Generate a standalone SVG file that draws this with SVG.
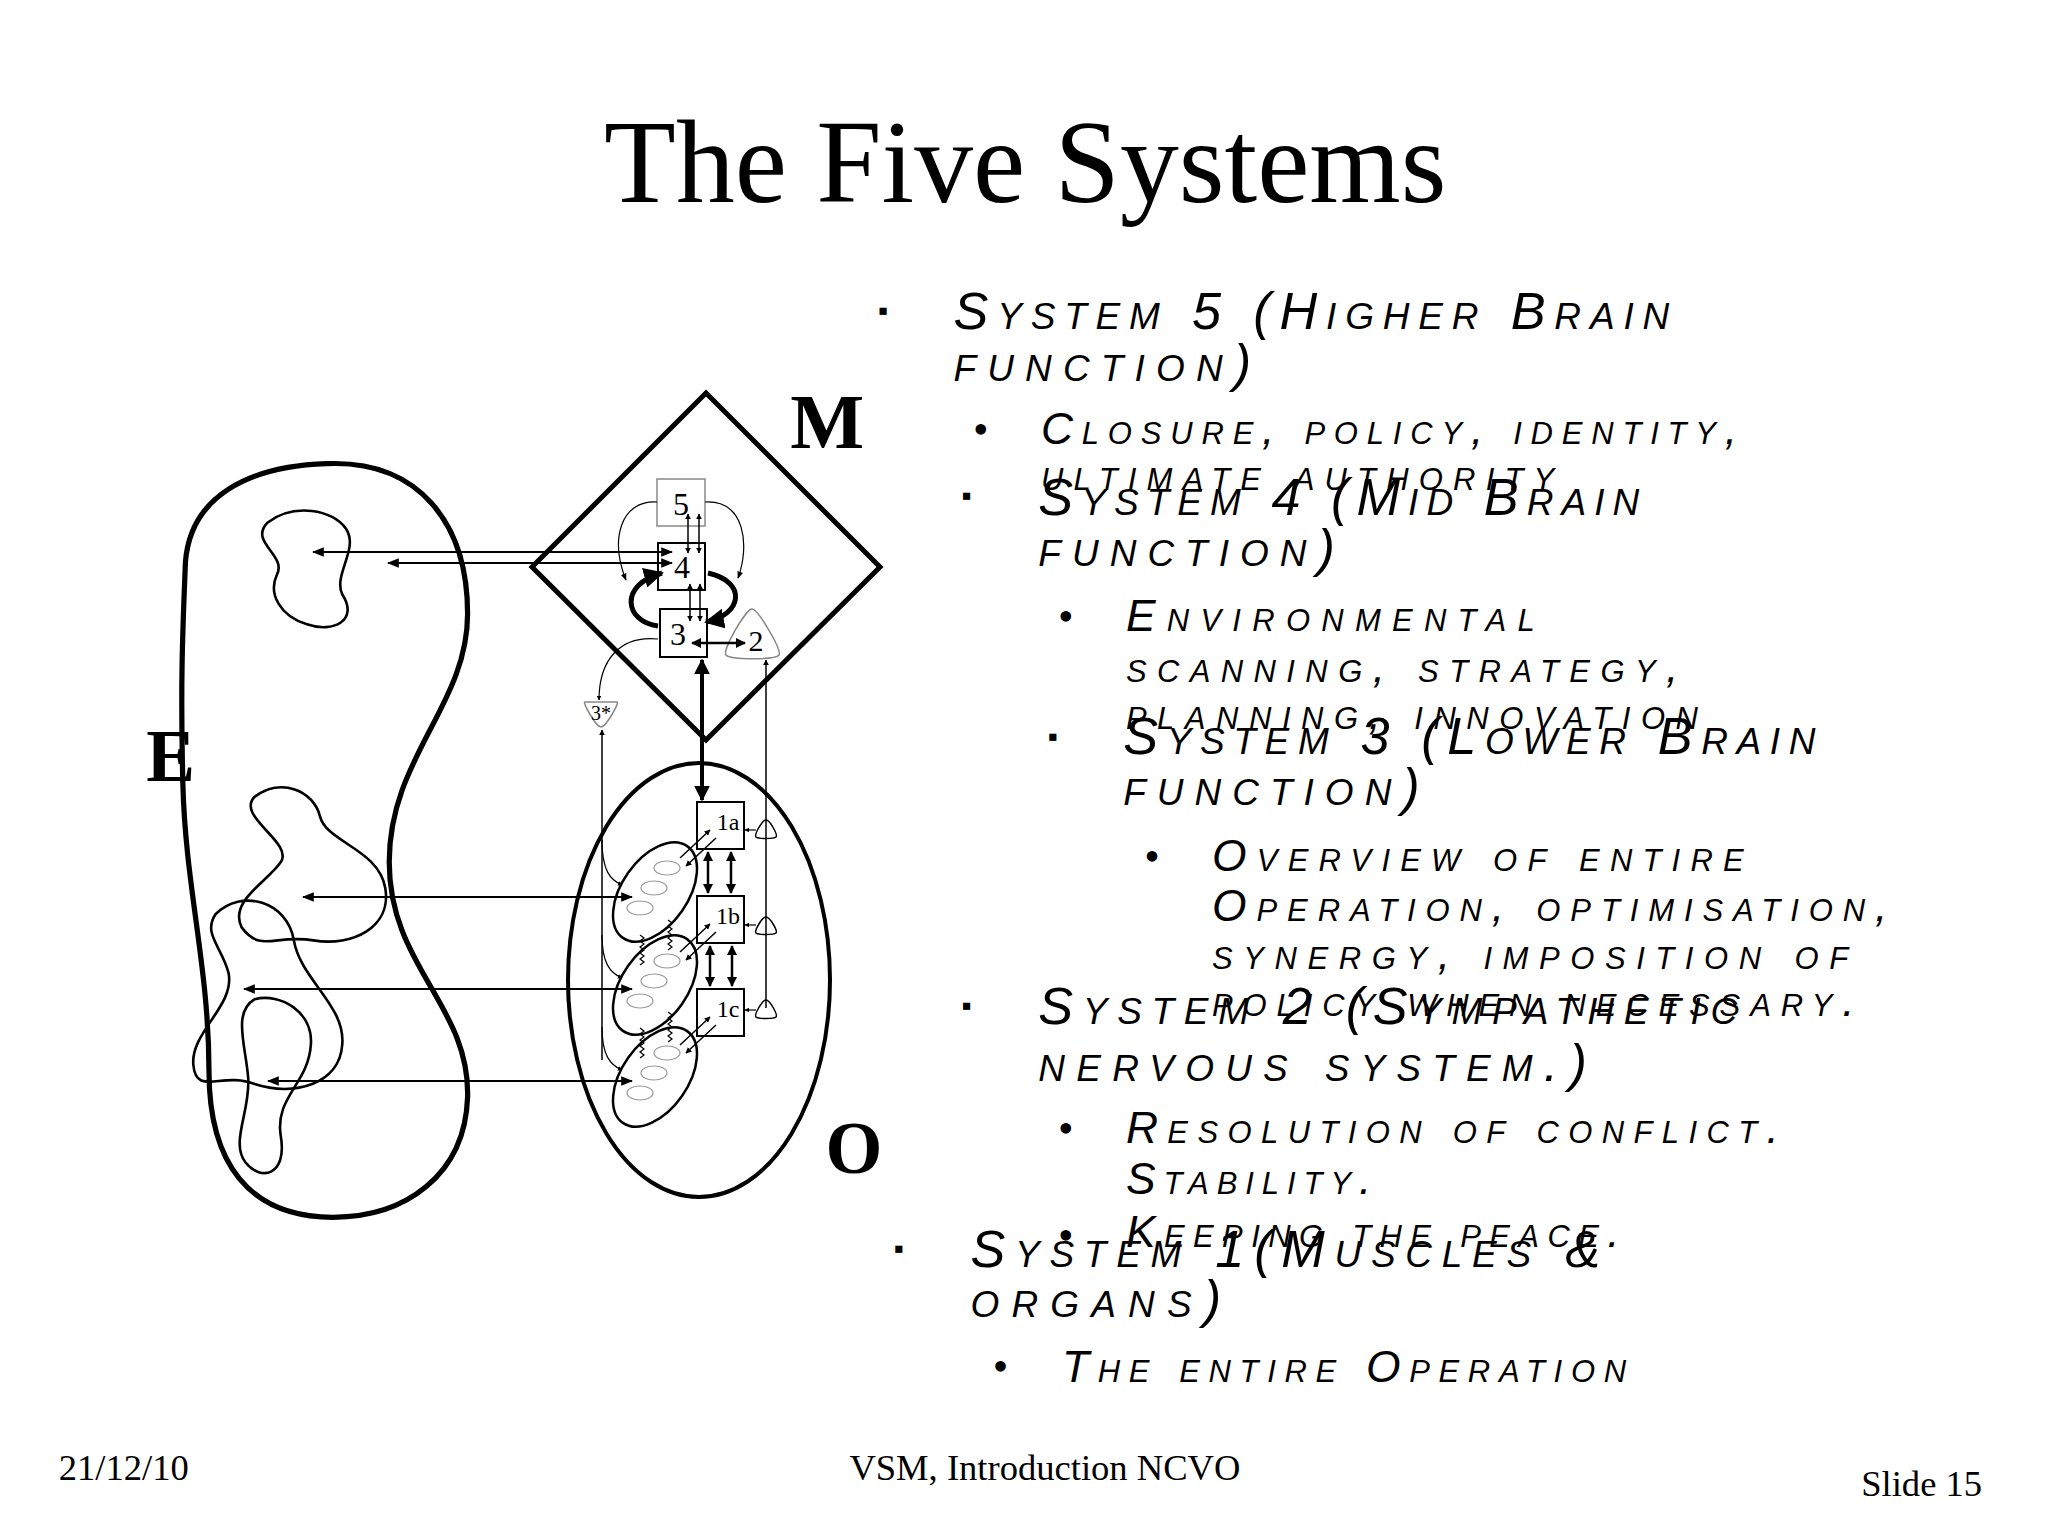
<svg xmlns="http://www.w3.org/2000/svg" width="2048" height="1536" viewBox="0 0 2048 1536">
<defs>
<marker id="a" viewBox="0 0 10 10" refX="9" refY="5" markerWidth="6" markerHeight="6" orient="auto-start-reverse"><path d="M0,1 L10,5 L0,9 Z" fill="#000"/></marker>
<marker id="b" viewBox="0 0 10 10" refX="9" refY="5" markerWidth="4" markerHeight="4" orient="auto-start-reverse"><path d="M0,0 L10,5 L0,10 Z" fill="#000"/></marker>
<style>
.t{font-family:"Liberation Serif","Times New Roman",serif;fill:#000}
.b{font-family:"Liberation Sans",Arial,sans-serif;font-style:italic;font-variant:small-caps;fill:#000}
.s1{font-size:40px}.s2{font-size:34px}
.k{fill:none;stroke:#000}
.g{fill:#fff;stroke:#888;stroke-width:1.5}
</style>
</defs>
<rect width="2048" height="1536" fill="#fff"/>
<g transform="scale(1.30612)">
<text class="t" x="785" y="155" font-size="90" text-anchor="middle">The Five Systems</text>
<g id="E">
<path class="k" stroke-width="4" d="M250 355 C320 352 358 400 358 470 C358 540 298 580 298 660 C298 740 360 770 358 840 C356 900 310 932 255 932 C190 932 160 890 160 820 C160 740 142 680 140 600 C138 520 140 480 142 430 C146 380 190 357 250 355 Z"/>
<path class="k" stroke-width="2" d="M205 400 C225 385 255 390 265 405 C275 420 255 440 262 455 C275 475 255 485 235 478 C215 472 205 455 212 440 C220 425 190 415 205 400 Z"/>
<path class="k" stroke-width="2" d="M195 610 C215 595 240 605 245 625 C250 645 290 650 295 680 C300 710 270 725 240 720 C210 715 200 730 185 710 C175 690 205 675 215 660 C225 645 180 625 195 610 Z"/>
<path class="k" stroke-width="2" d="M165 700 C185 680 220 690 225 720 C230 750 265 770 262 800 C260 830 225 840 195 830 C170 820 150 840 148 815 C146 790 180 770 175 745 C170 725 155 715 165 700 Z"/>
<path class="k" stroke-width="2" d="M195 765 C215 760 240 775 238 800 C236 830 210 840 215 870 C220 900 200 905 188 890 C176 875 192 850 190 825 C188 800 178 775 195 765 Z"/>
<text class="t" x="112" y="598" font-size="56" font-weight="bold">E</text>
<text class="t" x="605" y="343" font-size="60" font-weight="bold">M</text>
<text class="t" x="632" y="898" font-size="56" font-weight="bold">O</text>
</g>
<g id="bullets">
<text class="b" x="672" y="245" font-size="22">▪</text>
<text class="b s1" x="730" y="252" textLength="548" lengthAdjust="spacing">System 5 (Higher Brain</text>
<text class="b s1" x="730" y="292" textLength="228" lengthAdjust="spacing">function)</text>
<text class="t" x="745" y="340" font-size="34">•</text>
<text class="b s2" x="797" y="340" textLength="533" lengthAdjust="spacing">Closure, policy, identity,</text>
<text class="b s2" x="797" y="375" textLength="393" lengthAdjust="spacing">ultimate authority</text>
<text class="b" x="736" y="387" font-size="22">▪</text>
<text class="b s1" x="795" y="394" textLength="460" lengthAdjust="spacing">System 4 (Mid Brain</text>
<text class="b s1" x="795" y="433" textLength="227" lengthAdjust="spacing">function)</text>
<text class="t" x="810" y="483" font-size="34">•</text>
<text class="b s2" x="862" y="483" textLength="313" lengthAdjust="spacing">Environmental</text>
<text class="b s2" x="862" y="522" textLength="423" lengthAdjust="spacing">scanning, strategy,</text>
<text class="b s2" x="862" y="558" textLength="438" lengthAdjust="spacing">planning, innovation</text>
<text class="b" x="802" y="571" font-size="22">▪</text>
<text class="b s1" x="860" y="577" textLength="530" lengthAdjust="spacing">System 3 (Lower Brain</text>
<text class="b s1" x="860" y="616" textLength="227" lengthAdjust="spacing">function)</text>
<text class="t" x="876" y="667" font-size="34">•</text>
<text class="b s2" x="928" y="667" textLength="407" lengthAdjust="spacing">Overview of  entire</text>
<text class="b s2" x="928" y="705" textLength="517" lengthAdjust="spacing">Operation, optimisation,</text>
<text class="b s2" x="928" y="742" textLength="487" lengthAdjust="spacing">synergy, imposition of</text>
<text class="b s2" x="928" y="778" textLength="492" lengthAdjust="spacing">policy when necessary.</text>
<text class="b" x="736" y="777" font-size="22">▪</text>
<text class="b s1" x="795" y="784" textLength="535" lengthAdjust="spacing">System 2 (Sympathetic</text>
<text class="b s1" x="795" y="828" textLength="420" lengthAdjust="spacing">nervous system.)</text>
<text class="t" x="810" y="875" font-size="34">•</text>
<text class="b s2" x="862" y="875" textLength="500" lengthAdjust="spacing">Resolution of conflict.</text>
<text class="b s2" x="862" y="914" textLength="188" lengthAdjust="spacing">Stability.</text>
<text class="t" x="810" y="957" font-size="34">•</text>
<text class="b s2" x="862" y="955" textLength="378" lengthAdjust="spacing">Keeping the peace.</text>
<text class="b" x="684" y="963" font-size="22">▪</text>
<text class="b s1" x="743" y="970" textLength="482" lengthAdjust="spacing">System 1(Muscles &amp;</text>
<text class="b s1" x="743" y="1008" textLength="192" lengthAdjust="spacing">organs)</text>
<text class="t" x="760" y="1057" font-size="34">•</text>
<text class="b s2" x="813" y="1058" textLength="432" lengthAdjust="spacing">The entire Operation</text>
</g>
<text class="t" x="45" y="1133" font-size="28">21/12/10</text>
<text class="t" x="800" y="1133" font-size="28" text-anchor="middle">VSM, Introduction NCVO</text>
<text class="t" x="1425" y="1145" font-size="28">Slide 15</text>
</g>
<g id="M">
<polygon class="k" stroke-width="5" points="706,393 880,567 706,740 532,567"/>
<rect class="g" x="657" y="479" width="48" height="47"/>
<text class="t" x="681" y="515" font-size="32" text-anchor="middle">5</text>
<rect class="k" stroke-width="2" fill="#fff" x="658" y="543" width="47" height="47"/>
<text class="t" x="682" y="578" font-size="32" text-anchor="middle">4</text>
<rect class="k" stroke-width="2" fill="#fff" x="660" y="609" width="47" height="48"/>
<text class="t" x="678" y="645" font-size="32" text-anchor="middle">3</text>
<path class="g" d="M752,609 C758,609 782,650 779,655 C776,660 730,660 726,655 C722,650 746,609 752,609 Z"/>
<text class="t" x="756" y="651" font-size="30" text-anchor="middle">2</text>
<path class="g" d="M585,702 L617,702 C620,702 606,727 601,727 C596,727 582,702 585,702 Z"/>
<text class="t" x="601" y="720" font-size="20" text-anchor="middle" fill="#444">3*</text>
</g>
<g id="O">
<ellipse class="k" stroke-width="4" cx="699" cy="980" rx="131" ry="217"/>
<rect class="k" stroke-width="2" fill="#fff" x="697" y="802" width="47" height="47"/>
<text class="t" x="728" y="830" font-size="24" text-anchor="middle">1a</text>
<rect class="k" stroke-width="2" fill="#fff" x="697" y="896" width="47" height="47"/>
<text class="t" x="728" y="924" font-size="24" text-anchor="middle">1b</text>
<rect class="k" stroke-width="2" fill="#fff" x="697" y="989" width="47" height="47"/>
<text class="t" x="728" y="1017" font-size="24" text-anchor="middle">1c</text>
<g fill="#fff" stroke="#000" stroke-width="1.5">
<path d="M766,820 C770,820 778,835 776,837 C774,839 758,839 756,837 C754,835 762,820 766,820 Z"/>
<path d="M766,917 C770,917 778,931 776,933 C774,935 758,935 756,933 C754,931 762,917 766,917 Z"/>
<path d="M766,1000 C770,1000 778,1015 776,1017 C774,1019 758,1019 756,1017 C754,1015 762,1000 766,1000 Z"/>
</g>
<g stroke="#000" stroke-width="2.5" fill="#fff">
<ellipse cx="655" cy="892" rx="33" ry="56" transform="rotate(35 655 892)"/>
<ellipse cx="655" cy="985" rx="33" ry="56" transform="rotate(35 655 985)"/>
<ellipse cx="655" cy="1077" rx="33" ry="56" transform="rotate(35 655 1077)"/>
</g>
<g fill="none" stroke="#999" stroke-width="1.2">
<ellipse cx="667" cy="868" rx="13" ry="7"/><ellipse cx="654" cy="888" rx="13" ry="7"/><ellipse cx="640" cy="908" rx="13" ry="7"/>
<ellipse cx="667" cy="961" rx="13" ry="7"/><ellipse cx="654" cy="981" rx="13" ry="7"/><ellipse cx="640" cy="1001" rx="13" ry="7"/>
<ellipse cx="667" cy="1053" rx="13" ry="7"/><ellipse cx="654" cy="1073" rx="13" ry="7"/><ellipse cx="640" cy="1093" rx="13" ry="7"/>
</g>
<g fill="none" stroke="#000" stroke-width="1.2">
<path d="M640,935 l4,3 l-4,3 l4,3 l-4,3 l4,3 l-4,3 l4,3 l-4,3 l4,3 l-4,3"/>
<path d="M668,920 l4,3 l-4,3 l4,3 l-4,3 l4,3 l-4,3 l4,3 l-4,3 l4,3 l-4,3"/>
<path d="M640,1028 l4,3 l-4,3 l4,3 l-4,3 l4,3 l-4,3 l4,3 l-4,3 l4,3 l-4,3"/>
<path d="M668,1012 l4,3 l-4,3 l4,3 l-4,3 l4,3 l-4,3 l4,3 l-4,3 l4,3 l-4,3"/>
</g>
</g>
<g id="connectors" fill="none" stroke="#000">
<line x1="313" y1="552" x2="672" y2="552" stroke-width="2" marker-start="url(#a)" marker-end="url(#a)"/>
<line x1="388" y1="563" x2="672" y2="563" stroke-width="2" marker-start="url(#a)" marker-end="url(#a)"/>
<line x1="303" y1="897" x2="632" y2="897" stroke-width="2" marker-start="url(#a)" marker-end="url(#a)"/>
<line x1="244" y1="989" x2="632" y2="989" stroke-width="2" marker-start="url(#a)" marker-end="url(#a)"/>
<line x1="268" y1="1081" x2="632" y2="1081" stroke-width="2" marker-start="url(#a)" marker-end="url(#a)"/>
<line x1="688" y1="514" x2="688" y2="553" stroke-width="1.5" marker-start="url(#b)" marker-end="url(#b)"/>
<line x1="699" y1="514" x2="699" y2="553" stroke-width="1.5" marker-start="url(#b)" marker-end="url(#b)"/>
<line x1="690" y1="584" x2="690" y2="621" stroke-width="1.5" marker-start="url(#b)" marker-end="url(#b)"/>
<line x1="700" y1="584" x2="700" y2="621" stroke-width="1.5" marker-start="url(#b)" marker-end="url(#b)"/>
<path d="M657,502 C620,500 610,540 626,580" stroke-width="1.2" marker-end="url(#a)"/>
<path d="M705,502 C745,500 750,545 738,578" stroke-width="1.2" marker-end="url(#a)"/>
<path d="M658,626 C625,622 618,585 662,573" stroke-width="5" marker-end="url(#b)"/>
<path d="M708,573 C748,582 742,615 706,622" stroke-width="5" marker-end="url(#b)"/>
<line x1="692" y1="643" x2="745" y2="643" stroke-width="2.5" marker-start="url(#b)" marker-end="url(#b)"/>
<path d="M658,639 C620,635 599,660 599,700" stroke-width="1.2" marker-end="url(#b)"/>
<path d="M602,1060 L602,730" stroke-width="1.5" marker-end="url(#b)"/>
<line x1="702" y1="660" x2="702" y2="800" stroke-width="4" marker-start="url(#b)" marker-end="url(#b)"/>
<line x1="766" y1="1008" x2="766" y2="660" stroke-width="1.5" marker-end="url(#b)"/>
<line x1="756" y1="830" x2="745" y2="830" stroke-width="1.2" marker-end="url(#b)"/>
<line x1="756" y1="925" x2="745" y2="925" stroke-width="1.2" marker-end="url(#b)"/>
<line x1="756" y1="1010" x2="745" y2="1010" stroke-width="1.2" marker-end="url(#b)"/>
<line x1="708" y1="852" x2="708" y2="893" stroke-width="2.5" marker-start="url(#b)" marker-end="url(#b)"/>
<line x1="731" y1="852" x2="731" y2="893" stroke-width="2.5" marker-start="url(#b)" marker-end="url(#b)"/>
<line x1="710" y1="946" x2="710" y2="986" stroke-width="2.5" marker-start="url(#b)" marker-end="url(#b)"/>
<line x1="732" y1="946" x2="732" y2="986" stroke-width="2.5" marker-start="url(#b)" marker-end="url(#b)"/>
<path d="M710,830 L680,858 M716,838 L686,866" stroke-width="1.5" marker-start="url(#b)" marker-end="url(#b)"/>
<path d="M710,924 L680,952 M716,932 L686,960" stroke-width="1.5" marker-start="url(#b)" marker-end="url(#b)"/>
<path d="M710,1017 L680,1045 M716,1025 L686,1053" stroke-width="1.5" marker-start="url(#b)" marker-end="url(#b)"/>
<path d="M602,840 C602,870 610,880 622,885" stroke-width="1.2" marker-end="url(#b)"/>
<path d="M602,935 C602,963 610,973 622,978" stroke-width="1.2" marker-end="url(#b)"/>
<path d="M602,1027 C602,1055 610,1065 622,1070" stroke-width="1.2" marker-end="url(#b)"/>
</g>
</svg>
